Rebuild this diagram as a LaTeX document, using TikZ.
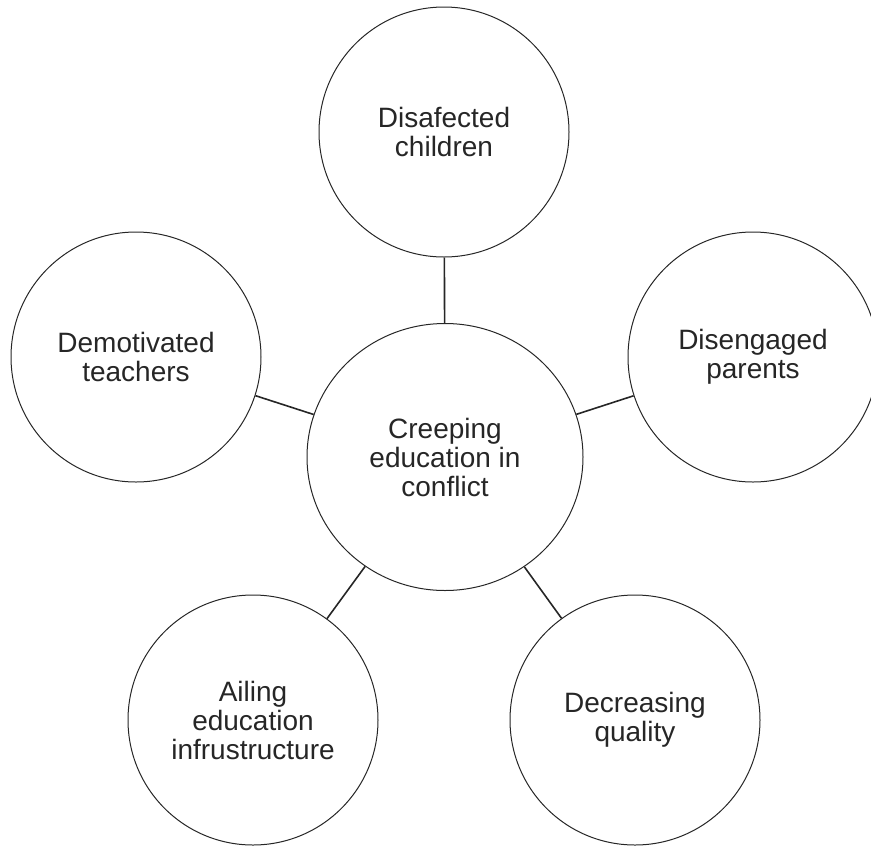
\documentclass[tikz,border=0pt]{standalone}
\usepackage{fontspec}
\setmainfont{Liberation Sans}
\usetikzlibrary{shapes.geometric}
\begin{document}
\begin{tikzpicture}[x=1pt,y=-1pt,
  bubble/.style={circle,draw=black!85,line width=1pt,minimum size=250pt,inner sep=0pt,
    align=center,font=\fontsize{28}{29}\selectfont,text=black!85},
  hub/.style={ellipse,draw=black!85,line width=1pt,minimum width=276pt,minimum height=267pt,inner sep=0pt,
    align=center,font=\fontsize{28}{29}\selectfont,text=black!85},
  link/.style={draw=black!85,line width=1.6pt}]
\useasboundingbox (0,0) rectangle (871,847);
\node[hub] (c) at (445,457) {Creeping\\education in\\conflict};
\node[bubble] (t) at (444,132) {Disafected\\children};
\node[bubble] (l) at (136,357) {Demotivated\\teachers};
\node[bubble] (r) at (753,357) {Disengaged\\parents};
\node[bubble] (bl) at (253,720) {Ailing\\education\\infrustructure};
\node[bubble] (br) at (635,720) {Decreasing\\quality};
\draw[link] (c) -- (t);
\draw[link] (c) -- (l);
\draw[link] (c) -- (r);
\draw[link] (c) -- (bl);
\draw[link] (c) -- (br);
\end{tikzpicture}
\end{document}
